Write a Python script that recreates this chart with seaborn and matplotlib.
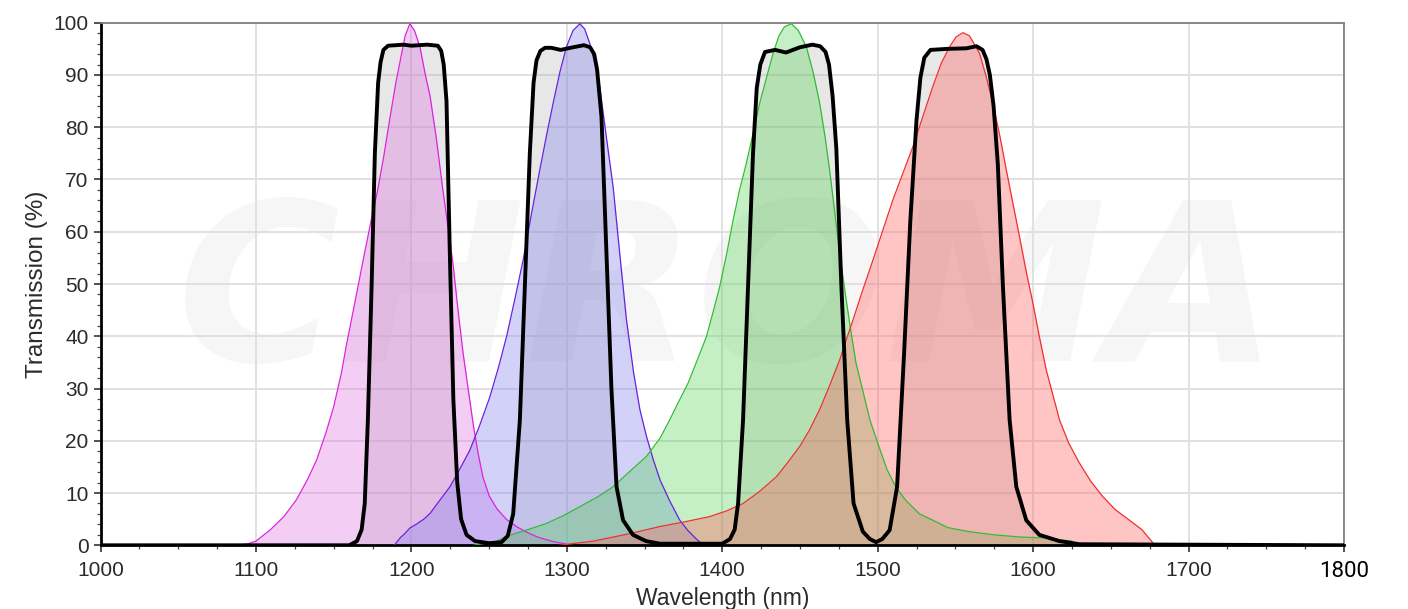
import numpy as np
import pandas as pd
import matplotlib
matplotlib.use("Agg")
import matplotlib.pyplot as plt
import seaborn as sns
from matplotlib.ticker import MultipleLocator

# ---------------- data ----------------
filter_wl = [1000, 1160, 1165, 1168, 1170, 1172, 1174.4, 1176.5, 1178.6, 1180.2, 1182, 1185, 1195, 1200, 1210, 1217,
             1219.2, 1220.8, 1222.6, 1224.8, 1227, 1229.5, 1232, 1235.5, 1241, 1250, 1258, 1262, 1265.5, 1269.8, 1273,
             1276.2, 1278.6, 1280.5, 1283, 1286, 1290, 1296, 1304, 1311, 1315, 1317.6, 1319.5, 1322.3, 1325.5, 1328.7,
             1332, 1336.2, 1342.6, 1351, 1360, 1400, 1405, 1408, 1410.2, 1413.4, 1416.6, 1419.8, 1422.2, 1424.5,
             1427.5, 1434, 1441, 1450, 1458, 1463, 1466.5, 1468.7, 1471, 1473.4, 1476.6, 1480.4, 1484.5, 1490.5, 1495,
             1499, 1503, 1507.7, 1512.5, 1517, 1521, 1525, 1527.5, 1530, 1534, 1545, 1557, 1563.6, 1567.5, 1570,
             1572.2, 1574.6, 1577.3, 1580.6, 1584.9, 1589.2, 1595.6, 1604, 1617, 1630, 1800]
filter_t = [0, 0, 0.8, 3, 8, 24, 49.5, 75, 88.5, 92.5, 94.8, 95.6, 95.8, 95.6, 95.8, 95.6,
            94.6, 92, 85, 55, 28, 12, 5, 2, 0.8, 0.4, 0.6, 1.8, 6, 24, 49.5,
            75, 88.5, 92.8, 94.6, 95.2, 95.2, 94.8, 95.3, 95.7, 95.3, 94, 91, 82, 56, 30,
            11.2, 4.8, 2, 0.8, 0.3, 0.3, 1.2, 3, 8, 24, 49.5, 75, 87.5, 92,
            94.4, 94.8, 94.3, 95.3, 95.8, 95.5, 94.4, 92, 86, 76, 50, 24, 8, 2.6, 1.2,
            0.6, 1.2, 2.9, 11.2, 36.7, 62, 81.4, 89.5, 93.3, 94.8, 95.0, 95.1, 95.5, 94.8, 93,
            90, 84, 73, 49.5, 24, 11.2, 4.8, 2, 0.8, 0.2, 0]

magenta_wl = [1088, 1095, 1100, 1109, 1118, 1126, 1133, 1139, 1145, 1150, 1155, 1158, 1164, 1169, 1174, 1178,
              1182, 1186, 1190, 1193, 1196, 1199, 1202, 1205.5, 1209, 1212, 1216, 1220, 1224, 1227, 1230,
              1233.3, 1236.5, 1240, 1243, 1246, 1250, 1255, 1261, 1268, 1275, 1281, 1290, 1300]
magenta_t = [0, 0.3, 0.8, 2.9, 5.5, 8.7, 12.5, 16.3, 21.5, 26.5, 33, 38, 47, 54.6, 62, 67.5,
             74, 81.4, 88.5, 93, 97.5, 99.8, 98.5, 95.4, 90, 86, 78, 68.6, 60, 53.3, 45,
             36.7, 30, 22.7, 17.5, 13.1, 9.5, 7, 5, 3.5, 2.4, 1.6, 0.8, 0.2]

purple_wl = [1189, 1193, 1196, 1199, 1203, 1208, 1212, 1218, 1224.8, 1231, 1237.6, 1244, 1250.5, 1256, 1261.2,
             1266.5, 1271.9, 1277, 1282.6, 1287, 1291.2, 1295.5, 1299.8, 1304, 1308.4, 1311.5, 1314.8, 1318,
             1321.2, 1325.5, 1329.8, 1334, 1338.4, 1343, 1347, 1351.3, 1355.5, 1360, 1366.2, 1372.7, 1378,
             1383, 1388]
purple_t = [0, 1.5, 2.3, 3.3, 4.0, 5.0, 6.1, 8.5, 11.2, 14.5, 18.2, 23, 28.4, 34, 39.9,
            47, 54.6, 63, 71.8, 78.5, 84.6, 90.5, 95.4, 98.5, 99.8, 98.8, 96, 92.5,
            87.8, 78, 68.6, 56, 43.1, 33, 26, 20.8, 16.5, 12.5, 8.5, 4.8, 2.8,
            1.3, 0]

green_wl = [1240, 1255, 1262, 1275, 1287, 1298, 1308.4, 1320, 1329.8, 1340, 1351.2, 1360, 1366.2, 1372, 1378,
            1384, 1389.8, 1394, 1398.4, 1403, 1407, 1411, 1415.5, 1420, 1424.1, 1428.5, 1432.7, 1436.5, 1440,
            1444.5, 1449, 1454.1, 1458.5, 1462.7, 1466, 1469.1, 1472.5, 1475.6, 1479, 1482.5, 1486, 1490.5,
            1495, 1501.3, 1506, 1512, 1518.4, 1527, 1535.5, 1545, 1559, 1575, 1591, 1608, 1625, 1628]
green_t = [0, 0.8, 1.8, 3, 4.2, 5.7, 7.4, 9.3, 11.2, 14, 17, 20.5, 24, 27.5, 31,
           35.5, 39.9, 44.5, 49.5, 56, 62.2, 67.8, 73.1, 79, 84.6, 89.5, 94.1, 97.5, 99.2,
           99.8, 98.5, 95.4, 90.5, 84.6, 78.5, 71.8, 63.5, 55.9, 48.5, 41.5, 35, 29.5,
           24, 18.5, 14.5, 11, 8.5, 6.0, 4.8, 3.4, 2.6, 2.0, 1.6, 1.4, 0.8, 0]

red_wl = [1295, 1317, 1340, 1360, 1376, 1392, 1403, 1413.4, 1424, 1434.8, 1442, 1449.8, 1456, 1462.7, 1469,
          1475.6, 1480, 1484.1, 1490, 1497, 1503, 1509.8, 1516, 1522.7, 1529, 1535.5, 1541, 1546.3, 1550.5,
          1554.9, 1559, 1562, 1565.6, 1570, 1574.1, 1578.5, 1582.8, 1587, 1591.3, 1595.5, 1599.9, 1604,
          1608.5, 1613, 1617, 1623, 1629.9, 1637, 1644.9, 1653, 1662, 1670, 1677]
red_t = [0, 0.8, 2.2, 3.6, 4.5, 5.5, 6.6, 8.0, 10.3, 13.1, 15.8, 18.9, 22, 26, 30.5,
         35.5, 39.5, 43.1, 48.5, 54.6, 60, 66.1, 71, 76.3, 82, 87.8, 92.3, 95.4, 97.3,
         98.1, 97.5, 96, 94.1, 89.5, 84.6, 78.5, 71.8, 65.5, 59, 52.5, 46.3, 40,
         33.5, 28.5, 24, 19.5, 15.7, 12.3, 9.3, 6.8, 4.8, 3.0, 0.5]

x_ticks = [1000, 1100, 1200, 1300, 1400, 1500, 1600, 1700, 1800]
y_ticks = [0, 10, 20, 30, 40, 50, 60, 70, 80, 90, 100]
x_label = "Wavelength (nm)"
y_label = "Transmission (%)"

# ---------------- style ----------------
sns.set_theme(style="white")
plt.rcParams['font.family'] = ['Liberation Sans', 'DejaVu Sans']

fig = plt.figure(figsize=(14.08, 6.09), dpi=100)
ax = fig.add_axes([0.0714, 0.1046, 0.8831, 0.8581])

# faint watermark
ax.text(0.505, 0.47, "CHROMA", transform=ax.transAxes, ha="center", va="center",
        fontsize=160, fontweight="bold", fontstyle="italic", color="#f6f6f6",
        family=["DejaVu Sans"], zorder=0)

# gray filter fill
ax.fill_between(filter_wl, filter_t, 0, color="#b0b0b0", alpha=0.30, lw=0, zorder=1)

spectra = [
    (magenta_wl, magenta_t, "#dd22dd", "#e070e0", 0.35),
    (purple_wl, purple_t, "#6622dd", "#8080f0", 0.35),
    (green_wl, green_t, "#33bb33", "#40d040", 0.30),
    (red_wl, red_t, "#f03030", "#ff6060", 0.37),
]
for wl, t, lc, fc, a in spectra:
    ax.fill_between(wl, t, 0, color=fc, alpha=a, lw=0, zorder=2)
    sns.lineplot(x=wl, y=t, ax=ax, color=lc, lw=0.9, sort=False, estimator=None, zorder=3)

sns.lineplot(x=filter_wl, y=filter_t, ax=ax, color="black", lw=2.8, sort=False,
             estimator=None, zorder=4)

ax.set_xlim(1000, 1800)
ax.set_ylim(0, 100)
ax.set_xticks(x_ticks)
ax.set_yticks(y_ticks)
ax.xaxis.set_minor_locator(MultipleLocator(25))
ax.yaxis.set_minor_locator(MultipleLocator(2))
ax.grid(True, which="major", color="#dedede", lw=1.3, zorder=0.8)
ax.set_axisbelow(True)

ax.tick_params(axis="both", which="major", direction="out", length=5, width=1.1,
               color="#222222", labelsize=15, labelcolor="#2b2b2b",
               left=True, bottom=True, top=False, right=False)
ax.tick_params(axis="both", which="minor", direction="out", length=3, width=0.9,
               color="#444444", left=True, bottom=True, top=False, right=False)
ax.tick_params(axis="x", which="major", pad=6)
ax.tick_params(axis="y", which="major", pad=3.5)

for lab in ax.get_xticklabels():
    if lab.get_text() == "1800":
        lab.set_color("black")
        lab.set_family(["Roboto", "DejaVu Sans"])
        lab.set_fontsize(16)

for s in ["left", "bottom"]:
    ax.spines[s].set_color("black")
    ax.spines[s].set_linewidth(2.0)
for s in ["top", "right"]:
    ax.spines[s].set_color("#808080")
    ax.spines[s].set_linewidth(1.3)

ax.set_xlabel(x_label, fontsize=16.5, color="#2b2b2b")
ax.set_ylabel(y_label, fontsize=17.5, color="#2b2b2b")
ax.xaxis.set_label_coords(0.5, -0.080)
ax.yaxis.set_label_coords(-0.042, 0.5)

fig.savefig("out.png", dpi=100)
